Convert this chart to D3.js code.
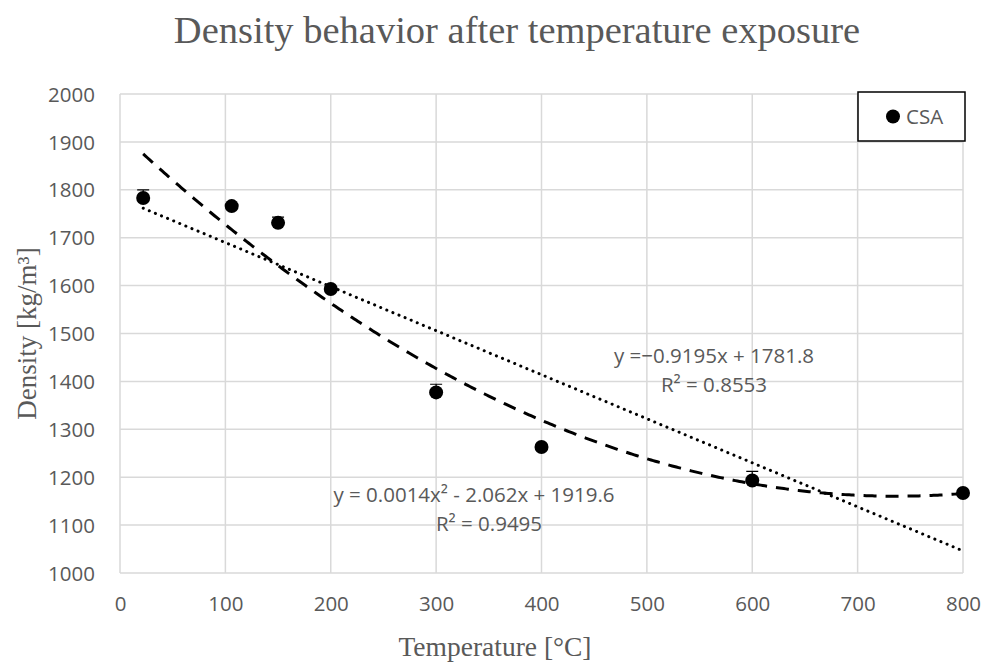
<!DOCTYPE html>
<html>
<head>
<meta charset="utf-8">
<script src="https://cdn.jsdelivr.net/npm/d3@7"></script>
<style>
  body { margin: 0; background: #fff; }
  svg { display: block; }
  .tick text { font-family: 'Open Sans', sans-serif; font-size: 20.5px; fill: #595959; }
</style>
</head>
<body>
<svg id="chart" width="983" height="664"></svg>
<script>
// measured values
const temps = [22, 106, 150, 200, 300, 400, 600, 800]
const density = [1783, 1766, 1731, 1593, 1377, 1263, 1193, 1167]
const errors = [17, 4, 12, 4, 17, 4, 19, 4]

const xTicks = [0, 100, 200, 300, 400, 500, 600, 700, 800]
const yTicks = [1000, 1100, 1200, 1300, 1400, 1500, 1600, 1700, 1800, 1900, 2000]

// trendline coefficients as printed on the chart
const linCoef = [-0.9195, 1781.8]
const quadCoef = [0.0014, -2.062, 1919.6]

const svg = d3.select('#chart')
const x = d3.scaleLinear().domain([0, 800]).range([120, 963])
const y = d3.scaleLinear().domain([1000, 2000]).range([573, 94])

const grey = '#595959'
const gridCol = '#d9d9d9'

// grid
const grid = svg.append('g')
grid.selectAll('.gx')
  .data(xTicks)
  .enter()
  .append('line')
  .attr('x1', (d) => x(d)).attr('x2', (d) => x(d))
  .attr('y1', y(2000)).attr('y2', y(1000))
  .attr('stroke', gridCol).attr('stroke-width', 1.5)
grid.selectAll('.gy')
  .data(yTicks)
  .enter()
  .append('line')
  .attr('x1', x(0)).attr('x2', x(800))
  .attr('y1', (d) => y(d)).attr('y2', (d) => y(d))
  .attr('stroke', gridCol).attr('stroke-width', 1.5)

// axes (labels only)
svg.append('g')
  .attr('transform', `translate(0, ${y(1000)})`)
  .call(d3.axisBottom(x).tickValues(xTicks).tickSize(0).tickPadding(23).tickFormat(d3.format('d')))
  .call((g) => g.select('.domain').remove())
svg.append('g')
  .attr('transform', `translate(${x(0)}, 0)`)
  .call(d3.axisLeft(y).tickValues(yTicks).tickSize(0).tickPadding(25).tickFormat(d3.format('d')))
  .call((g) => g.select('.domain').remove())
  .call((g) => g.selectAll('.tick text').attr('dy', '0.35em'))

// trendlines
const xs = d3.range(temps[0], 800.5, 2)
const line = d3.line().x((d) => x(d[0])).y((d) => y(d[1]))

svg.append('path')
  .datum(xs.map((t) => [t, quadCoef[0] * t * t + quadCoef[1] * t + quadCoef[2]]))
  .attr('d', line)
  .attr('fill', 'none')
  .attr('stroke', '#000')
  .attr('stroke-width', 3)
  .attr('stroke-dasharray', '13 9')

svg.append('path')
  .datum([temps[0], 800].map((t) => [t, linCoef[0] * t + linCoef[1]]))
  .attr('d', line)
  .attr('fill', 'none')
  .attr('stroke', '#000')
  .attr('stroke-width', 3)
  .attr('stroke-linecap', 'round')
  .attr('stroke-dasharray', '0.1 6.5')

// error bars (plus direction)
const pts = temps.map((t, i) => ({t, v: density[i], e: errors[i]}))
svg.append('g')
  .attr('stroke', '#000').attr('stroke-width', 1.2)
  .selectAll('path')
  .data(pts)
  .enter()
  .append('path')
  .attr('d', (d) => {
    const cx = x(d.t)
    const top = y(d.v + d.e)
    return `M${cx},${top}V${y(d.v)}M${cx - 6},${top}H${cx + 6}`
  })

// markers
svg.selectAll('.pt')
  .data(pts)
  .enter()
  .append('circle')
  .attr('cx', (d) => x(d.t))
  .attr('cy', (d) => y(d.v))
  .attr('r', 7)
  .attr('fill', '#000')

// equation labels
const lab = svg.append('g')
  .attr('font-family', "'Open Sans', sans-serif")
  .attr('font-size', 20.5)
  .attr('fill', grey)
  .attr('text-anchor', 'middle')
lab.append('text').attr('x', 714).attr('y', 363).text('y =\u22120.9195x + 1781.8')
lab.append('text').attr('x', 714).attr('y', 392).text('R\u00b2 = 0.8553')
lab.append('text').attr('x', 474).attr('y', 502).text('y = 0.0014x\u00b2 - 2.062x + 1919.6')
lab.append('text').attr('x', 489).attr('y', 531).text('R\u00b2 = 0.9495')

// title and axis titles
svg.append('text')
  .attr('x', 517).attr('y', 43)
  .attr('text-anchor', 'middle')
  .attr('font-family', "'Liberation Serif', serif")
  .attr('font-size', 38.5)
  .attr('fill', grey)
  .text('Density behavior after temperature exposure')

svg.append('text')
  .attr('x', 495).attr('y', 656)
  .attr('text-anchor', 'middle')
  .attr('font-family', "'Liberation Serif', serif")
  .attr('font-size', 27.5)
  .attr('fill', grey)
  .text('Temperature [\u00b0C]')

svg.append('text')
  .attr('transform', `translate(36, ${y(1500)}) rotate(-90)`)
  .attr('text-anchor', 'middle')
  .attr('font-family', "'Liberation Serif', serif")
  .attr('font-size', 27)
  .attr('fill', grey)
  .text('Density [kg/m\u00b3]')

// legend
const leg = svg.append('g').attr('transform', 'translate(858, 92)')
leg.append('rect')
  .attr('width', 107).attr('height', 49)
  .attr('fill', '#fff')
  .attr('stroke', '#000').attr('stroke-width', 1.5)
leg.append('circle').attr('cx', 35).attr('cy', 24.5).attr('r', 7).attr('fill', '#000')
leg.append('text')
  .attr('x', 48).attr('y', 32)
  .attr('font-family', "'Open Sans', sans-serif")
  .attr('font-size', 20.5)
  .attr('fill', grey)
  .text('CSA')
</script>
</body>
</html>
